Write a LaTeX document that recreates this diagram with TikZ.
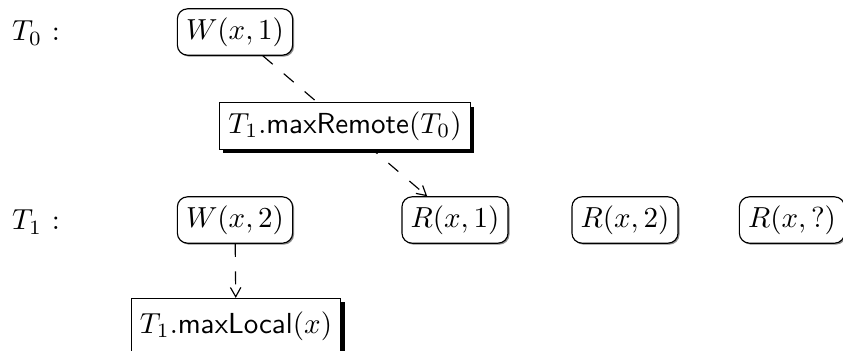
\documentclass[tikz,border=0pt]{standalone}
\usetikzlibrary{shadows,arrows.meta}
\begin{document}
\begin{tikzpicture}[x=0.345pt,y=-0.345pt,
  ev/.style={draw, solid, rounded corners=3.5pt, fill=white, inner sep=3pt,
    drop shadow={shadow xshift=0.5pt, shadow yshift=-0.5pt, fill=black!45, opacity=1}},
  mx/.style={draw, solid, fill=white, inner sep=3pt,
    drop shadow={shadow xshift=1.3pt, shadow yshift=-1.3pt, fill=black, opacity=1}},
  thr/.style={inner sep=0pt},
  dep/.style={dash pattern=on 4.5pt off 5pt, -{Straight Barb[length=3.2pt, width=3.6pt]}}]
\useasboundingbox (0,0) rectangle (843,350);
\clip (0,0) rectangle (843,350);
\node[thr] (t0) at (36,33) {$T_0$ :};
\node[thr] (t1) at (36,222) {$T_1$ :};
\node[ev] (w1) at (235,32) {$W(x,1)$};
\node[ev] (w2) at (235,220) {$W(x,2)$};
\node[ev] (r1) at (455,220) {$R(x,1)$};
\node[ev] (r2) at (625,220) {$R(x,2)$};
\node[ev] (r3) at (792,220) {$R(x,?)$};
\node[mx, minimum height=19pt] (ml) at (236,326) {$T_1.\mathsf{maxLocal}(x)$};
\draw[dep] (w1) -- node[mx] (mr) {$T_1.\mathsf{maxRemote}(T_0)$} (r1);
\draw[dep] (w2) -- (ml);
\end{tikzpicture}
\end{document}
